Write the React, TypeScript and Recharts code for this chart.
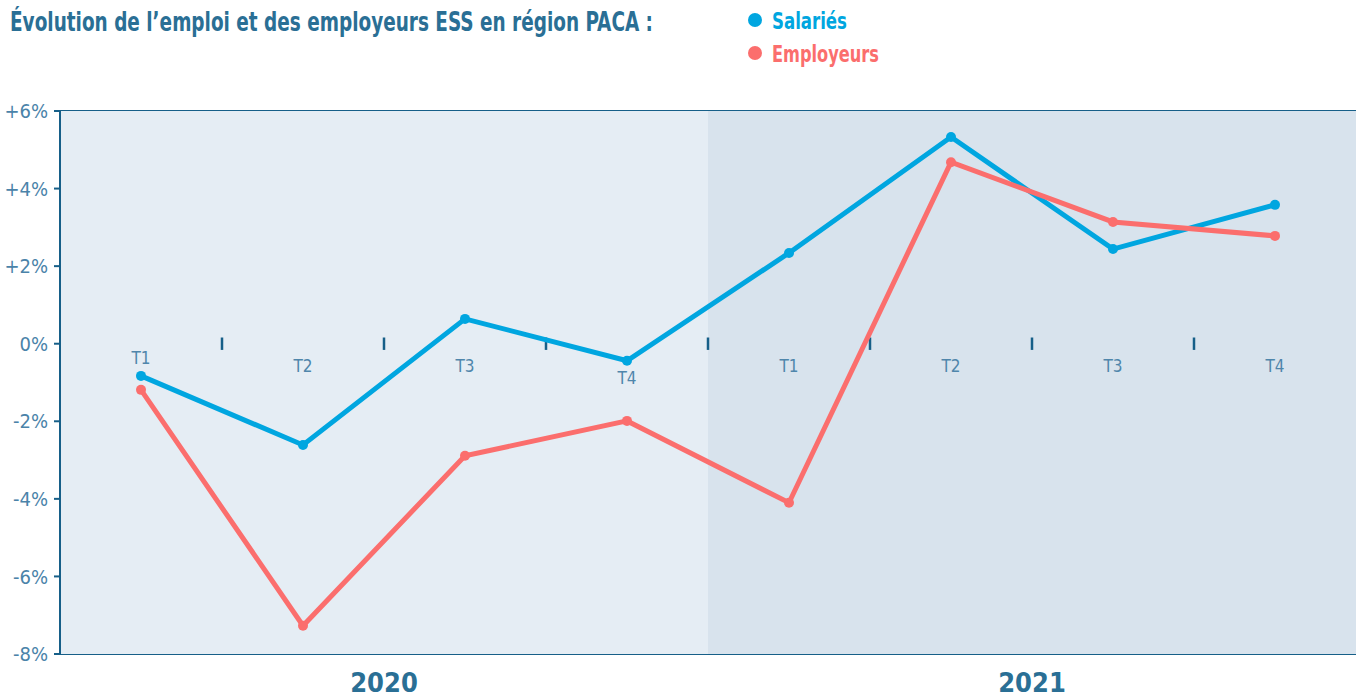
import React from "react";
import {
  LineChart,
  Line,
  XAxis,
  YAxis,
  CartesianGrid,
  ReferenceArea,
  ReferenceLine,
  ReferenceDot,
} from "recharts";

const quarters = ["T1", "T2", "T3", "T4", "T1", "T2", "T3", "T4"];
const years = ["2020", "2021"];
const salaries = [-0.83, -2.61, 0.64, -0.44, 2.34, 5.33, 2.44, 3.58];
const employeurs = [-1.19, -7.27, -2.89, -1.99, -4.1, 4.68, 3.14, 2.78];
const yTicks = [-8, -6, -4, -2, 0, 2, 4, 6];
const seriesNames = ["Salariés", "Employeurs"];

const data = quarters.map((q, i) => ({
  idx: i,
  quarter: q,
  salaries: salaries[i],
  employeurs: employeurs[i],
}));

const FONT = '"DejaVu Sans Condensed", "Roboto", sans-serif';
const BLUE = "#00a6e0";
const RED = "#fb6e6d";
const DARK = "#165f88";
const TITLE = "#2a6f95";

// label drop below the zero line, per quarter (avoids the lines)
const labelOffset = [8, 16, 16, 28, 16, 16, 16, 16];

const fmtPct = (v: number) => (v > 0 ? `+${v}%` : `${v}%`);

function Header() {
  return (
    <svg
      width={1356}
      height={80}
      style={{ position: "absolute", left: 0, top: 0 }}
      fontFamily={FONT}
      fontWeight={700}
    >
      <text x={10} y={31} fontSize={26} fill={TITLE} textLength={643} lengthAdjust="spacingAndGlyphs">
        Évolution de l’emploi et des employeurs ESS en région PACA :
      </text>
      <circle cx={755} cy={20} r={7} fill={BLUE} />
      <text x={772} y={29} fontSize={23} fill={BLUE} textLength={75} lengthAdjust="spacingAndGlyphs">
        {seriesNames[0]}
      </text>
      <circle cx={755} cy={53} r={7} fill={RED} />
      <text x={772} y={62} fontSize={23} fill={RED} textLength={107} lengthAdjust="spacingAndGlyphs">
        {seriesNames[1]}
      </text>
    </svg>
  );
}

export default function App() {
  return (
    <div
      style={{
        position: "absolute",
        left: 0,
        top: 0,
        width: 1356,
        height: 698,
        background: "#fff",
        fontFamily: FONT,
      }}
    >
      <LineChart
        width={1356}
        height={698}
        data={data}
        margin={{ top: 111, right: 0, left: 0, bottom: 0 }}
      >
        <ReferenceArea x1={-0.5} x2={3.5} y1={-8} y2={6} fill="#e5edf4" fillOpacity={1} stroke="none" />
        <ReferenceArea x1={3.5} x2={7.5} y1={-8} y2={6} fill="#d8e3ed" fillOpacity={1} stroke="none" />
        <CartesianGrid vertical={false} stroke={DARK} strokeWidth={2} />
        <XAxis
          type="number"
          dataKey="idx"
          domain={[-0.5, 7.5]}
          ticks={[1.5, 5.5]}
          tickFormatter={(v: number) => (v < 4 ? years[0] : years[1])}
          axisLine={false}
          tickLine={false}
          height={44}
          tick={{ fontSize: 27, fontWeight: 700, fill: TITLE, fontFamily: FONT, dy: 11 }}
        />
        <YAxis
          type="number"
          domain={[-8, 6]}
          ticks={yTicks}
          width={60}
          tickFormatter={fmtPct}
          axisLine={{ stroke: DARK, strokeWidth: 2 }}
          tickLine={{ stroke: DARK, strokeWidth: 2 }}
          tickSize={6}
          tick={{ fontSize: 20, fill: "#4a83a9", fontFamily: FONT, dx: -4 }}
        />
        {quarters.slice(1).map((_, i) => (
          <ReferenceLine
            key={`tk${i}`}
            segment={[
              { x: i + 0.5, y: -0.16 },
              { x: i + 0.5, y: 0.16 },
            ]}
            stroke={DARK}
            strokeWidth={2.5}
          />
        ))}
        {quarters.map((q, i) => (
          <ReferenceDot
            key={`lb${i}`}
            x={i}
            y={0}
            r={0}
            fill="none"
            stroke="none"
            label={{
              value: q,
              position: "bottom",
              offset: labelOffset[i],
              fill: "#4f86ab",
              fontSize: 17,
              fontFamily: FONT,
            }}
          />
        ))}
        <Line
          type="linear"
          dataKey="salaries"
          name={seriesNames[0]}
          stroke={BLUE}
          strokeWidth={5}
          dot={{ r: 5, fill: BLUE, stroke: "none" }}
          isAnimationActive={false}
        />
        <Line
          type="linear"
          dataKey="employeurs"
          name={seriesNames[1]}
          stroke={RED}
          strokeWidth={5}
          dot={{ r: 5, fill: RED, stroke: "none" }}
          isAnimationActive={false}
        />
      </LineChart>
      <Header />
    </div>
  );
}
